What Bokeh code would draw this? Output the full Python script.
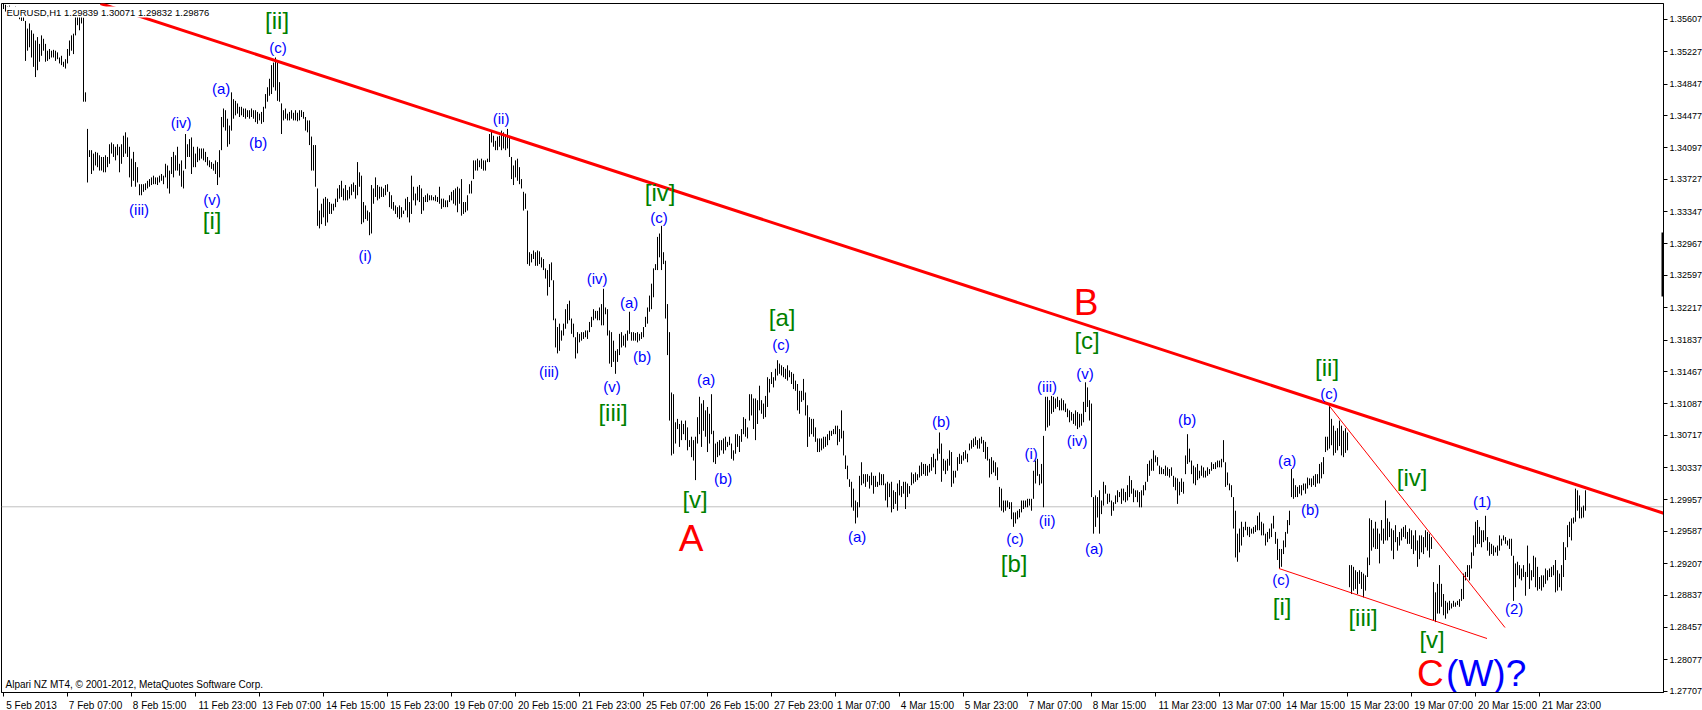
from bokeh.plotting import figure
from bokeh.models import Range1d, FixedTicker, PrintfTickFormatter, Span, Label, LinearAxis, BoxAnnotation, ColumnDataSource
from bokeh.core.properties import value
from bokeh.embed import file_html
from bokeh.resources import INLINE

# ---------------- data (EURUSD H1, bar highs / lows) ----------------
highs = [
    1.3579, 1.3578, 1.3576, 1.3577, 1.3575, 1.3574, 1.3576, 1.3575, 1.3571, 1.3571,
    1.3569, 1.3559, 1.3550, 1.3556, 1.3548, 1.3544, 1.3536, 1.3540, 1.3532, 1.3542,
    1.3538, 1.3532, 1.3524, 1.3526, 1.3524, 1.3525, 1.3524, 1.3522, 1.3516, 1.3518,
    1.3511, 1.3514, 1.3526, 1.3536, 1.3542, 1.3544, 1.3571, 1.3571, 1.3569, 1.3571,
    1.3563, 1.3475, 1.3432, 1.3407, 1.3407, 1.3403, 1.3405, 1.3404, 1.3401, 1.3399,
    1.3399, 1.3401, 1.3399, 1.3414, 1.3416, 1.3414, 1.3411, 1.3414, 1.3411, 1.3414,
    1.3424, 1.3428, 1.3422, 1.3411, 1.3397, 1.3405, 1.3393, 1.3387, 1.3367, 1.3367,
    1.3367, 1.3368, 1.3371, 1.3373, 1.3375, 1.3377, 1.3375, 1.3375, 1.3377, 1.3379,
    1.3377, 1.3391, 1.3389, 1.3383, 1.3399, 1.3405, 1.3401, 1.3411, 1.3391, 1.3395,
    1.3383, 1.3426, 1.3414, 1.3420, 1.3422, 1.3411, 1.3403, 1.3411, 1.3409, 1.3409,
    1.3409, 1.3405, 1.3399, 1.3395, 1.3393, 1.3391, 1.3395, 1.3393, 1.3407, 1.3446,
    1.3456, 1.3454, 1.3444, 1.3436, 1.3475, 1.3467, 1.3465, 1.3462, 1.3458, 1.3458,
    1.3456, 1.3456, 1.3454, 1.3454, 1.3456, 1.3454, 1.3454, 1.3452, 1.3450, 1.3452,
    1.3458, 1.3473, 1.3481, 1.3491, 1.3507, 1.3510, 1.3516, 1.3510, 1.3487, 1.3462,
    1.3454, 1.3456, 1.3450, 1.3452, 1.3454, 1.3451, 1.3454, 1.3451, 1.3454, 1.3454,
    1.3452, 1.3446, 1.3442, 1.3442, 1.3423, 1.3413, 1.3413, 1.3362, 1.3336, 1.3344,
    1.3350, 1.3352, 1.3350, 1.3346, 1.3344, 1.3344, 1.3350, 1.3362, 1.3366, 1.3371,
    1.3362, 1.3366, 1.3360, 1.3364, 1.3367, 1.3369, 1.3366, 1.3393, 1.3381, 1.3377,
    1.3346, 1.3342, 1.3336, 1.3334, 1.3366, 1.3362, 1.3375, 1.3366, 1.3364, 1.3364,
    1.3362, 1.3366, 1.3367, 1.3358, 1.3354, 1.3346, 1.3342, 1.3340, 1.3342, 1.3340,
    1.3336, 1.3350, 1.3352, 1.3346, 1.3377, 1.3364, 1.3356, 1.3364, 1.3366, 1.3362,
    1.3352, 1.3354, 1.3356, 1.3354, 1.3354, 1.3352, 1.3354, 1.3352, 1.3364, 1.3350,
    1.3350, 1.3348, 1.3348, 1.3354, 1.3358, 1.3360, 1.3362, 1.3364, 1.3362, 1.3373,
    1.3346, 1.3346, 1.3354, 1.3367, 1.3371, 1.3395, 1.3395, 1.3397, 1.3395, 1.3397,
    1.3395, 1.3395, 1.3397, 1.3426, 1.3430, 1.3424, 1.3418, 1.3423, 1.3424, 1.3430,
    1.3428, 1.3426, 1.3432, 1.3423, 1.3399, 1.3389, 1.3395, 1.3397, 1.3387, 1.3373,
    1.3358, 1.3356, 1.3336, 1.3287, 1.3285, 1.3289, 1.3287, 1.3289, 1.3288, 1.3281,
    1.3279, 1.3268, 1.3266, 1.3273, 1.3275, 1.3254, 1.3209, 1.3199, 1.3203, 1.3195,
    1.3203, 1.3220, 1.3226, 1.3230, 1.3209, 1.3203, 1.3187, 1.3193, 1.3191, 1.3193,
    1.3193, 1.3195, 1.3195, 1.3205, 1.3211, 1.3220, 1.3218, 1.3218, 1.3222, 1.3226,
    1.3244, 1.3222, 1.3220, 1.3195, 1.3193, 1.3183, 1.3171, 1.3173, 1.3191, 1.3193,
    1.3189, 1.3191, 1.3195, 1.3217, 1.3193, 1.3193, 1.3192, 1.3193, 1.3191, 1.3193,
    1.3199, 1.3211, 1.3222, 1.3236, 1.3250, 1.3268, 1.3273, 1.3305, 1.3309, 1.3318,
    1.3287, 1.3277, 1.3226, 1.3193, 1.3122, 1.3120, 1.3087, 1.3091, 1.3085, 1.3089,
    1.3085, 1.3089, 1.3081, 1.3066, 1.3070, 1.3066, 1.3070, 1.3093, 1.3117, 1.3109,
    1.3113, 1.3101, 1.3105, 1.3097, 1.3120, 1.3077, 1.3062, 1.3064, 1.3066, 1.3066,
    1.3068, 1.3070, 1.3064, 1.3070, 1.3062, 1.3054, 1.3073, 1.3073, 1.3071, 1.3079,
    1.3093, 1.3091, 1.3081, 1.3120, 1.3120, 1.3115, 1.3115, 1.3113, 1.3130, 1.3113,
    1.3109, 1.3118, 1.3140, 1.3138, 1.3146, 1.3140, 1.3150, 1.3160, 1.3156, 1.3154,
    1.3152, 1.3150, 1.3154, 1.3148, 1.3146, 1.3144, 1.3136, 1.3132, 1.3124, 1.3124,
    1.3138, 1.3122, 1.3107, 1.3093, 1.3091, 1.3091, 1.3081, 1.3068, 1.3068, 1.3068,
    1.3070, 1.3070, 1.3073, 1.3077, 1.3077, 1.3079, 1.3083, 1.3083, 1.3079, 1.3101,
    1.3077, 1.3048, 1.3036, 1.3020, 1.3017, 1.3009, 1.2995, 1.2993, 1.3024, 1.3040,
    1.3026, 1.3026, 1.3026, 1.3024, 1.3028, 1.3024, 1.3024, 1.3017, 1.3028, 1.3026,
    1.3026, 1.3015, 1.3017, 1.3015, 1.3017, 1.3007, 1.3005, 1.3015, 1.3019, 1.3012,
    1.3017, 1.3017, 1.3015, 1.3012, 1.3028, 1.3026, 1.3028, 1.3026, 1.3036, 1.3040,
    1.3038, 1.3038, 1.3036, 1.3038, 1.3046, 1.3050, 1.3044, 1.3056, 1.3075, 1.3062,
    1.3044, 1.3042, 1.3044, 1.3054, 1.3052, 1.3030, 1.3030, 1.3046, 1.3050, 1.3048,
    1.3052, 1.3054, 1.3050, 1.3062, 1.3066, 1.3068, 1.3070, 1.3066, 1.3068, 1.3070,
    1.3066, 1.3064, 1.3058, 1.3044, 1.3046, 1.3042, 1.3040, 1.3034, 1.3011, 1.3009,
    1.2995, 1.2995, 1.2995, 1.2993, 1.2993, 1.2981, 1.2981, 1.2983, 1.2985, 1.2995,
    1.2995, 1.2995, 1.2997, 1.2997, 1.2997, 1.3030, 1.3042, 1.3044, 1.3026, 1.3038,
    1.3071, 1.3117, 1.3117, 1.3113, 1.3118, 1.3117, 1.3115, 1.3117, 1.3113, 1.3115,
    1.3113, 1.3109, 1.3103, 1.3101, 1.3099, 1.3097, 1.3101, 1.3099, 1.3097, 1.3097,
    1.3111, 1.3134, 1.3128, 1.3113, 1.3109, 1.2999, 1.3001, 1.2999, 1.3007, 1.2995,
    1.3017, 1.3013, 1.3003, 1.3003, 1.2995, 1.2993, 1.3001, 1.3007, 1.3005, 1.3009,
    1.3009, 1.3005, 1.3013, 1.3024, 1.3019, 1.3009, 1.3007, 1.3007, 1.3005, 1.3007,
    1.3013, 1.3017, 1.3038, 1.3042, 1.3044, 1.3054, 1.3048, 1.3046, 1.3036, 1.3034,
    1.3032, 1.3036, 1.3034, 1.3032, 1.3034, 1.3024, 1.3022, 1.3021, 1.3017, 1.3021,
    1.3017, 1.3048, 1.3073, 1.3056, 1.3042, 1.3036, 1.3034, 1.3038, 1.3030, 1.3036,
    1.3034, 1.3030, 1.3034, 1.3032, 1.3040, 1.3038, 1.3040, 1.3042, 1.3042, 1.3044,
    1.3066, 1.3040, 1.3028, 1.3015, 1.3013, 1.2999, 1.2983, 1.2956, 1.2962, 1.2970,
    1.2964, 1.2970, 1.2964, 1.2964, 1.2962, 1.2964, 1.2966, 1.2977, 1.2981, 1.2970,
    1.2968, 1.2956, 1.2958, 1.2962, 1.2968, 1.2977, 1.2958, 1.2950, 1.2938, 1.2938,
    1.2948, 1.2958, 1.2972, 1.2983, 1.3032, 1.3021, 1.3013, 1.3011, 1.3013, 1.3013,
    1.3015, 1.3015, 1.3022, 1.3021, 1.3021, 1.3024, 1.3026, 1.3026, 1.3038, 1.3040,
    1.3046, 1.3070, 1.3070, 1.3107, 1.3091, 1.3083, 1.3077, 1.3080, 1.3089, 1.3083,
    1.3077, 1.3080, 1.3075, 1.2919, 1.2919, 1.2917, 1.2913, 1.2911, 1.2913, 1.2911,
    1.2909, 1.2907, 1.2928, 1.2974, 1.2972, 1.2962, 1.2970, 1.2962, 1.2956, 1.2972,
    1.2962, 1.2995, 1.2974, 1.2970, 1.2962, 1.2960, 1.2966, 1.2952, 1.2958, 1.2962,
    1.2964, 1.2966, 1.2958, 1.2962, 1.2960, 1.2954, 1.2960, 1.2948, 1.2954, 1.2954,
    1.2952, 1.2960, 1.2958, 1.2956, 1.2952, 1.2899, 1.2887, 1.2897, 1.2919, 1.2897,
    1.2885, 1.2877, 1.2875, 1.2877, 1.2874, 1.2877, 1.2875, 1.2877, 1.2879, 1.2891,
    1.2909, 1.2911, 1.2919, 1.2919, 1.2934, 1.2954, 1.2970, 1.2972, 1.2964, 1.2960,
    1.2960, 1.2977, 1.2952, 1.2946, 1.2944, 1.2942, 1.2940, 1.2942, 1.2954, 1.2950,
    1.2954, 1.2952, 1.2948, 1.2950, 1.2950, 1.2930, 1.2921, 1.2923, 1.2919, 1.2915,
    1.2919, 1.2911, 1.2942, 1.2921, 1.2913, 1.2930, 1.2928, 1.2917, 1.2905, 1.2907,
    1.2907, 1.2915, 1.2913, 1.2915, 1.2917, 1.2919, 1.2925, 1.2913, 1.2909, 1.2919,
    1.2946, 1.2940, 1.2966, 1.2970, 1.2974, 1.2975, 1.3009, 1.3007, 1.3001, 1.2987,
    1.2989, 1.3007,
]
lows = [
    1.3573, 1.3570, 1.3568, 1.3569, 1.3566, 1.3567, 1.3568, 1.3566, 1.3561, 1.3559,
    1.3559, 1.3512, 1.3524, 1.3528, 1.3516, 1.3505, 1.3493, 1.3501, 1.3511, 1.3518,
    1.3524, 1.3511, 1.3512, 1.3514, 1.3516, 1.3516, 1.3512, 1.3514, 1.3509, 1.3507,
    1.3505, 1.3503, 1.3509, 1.3518, 1.3524, 1.3520, 1.3542, 1.3554, 1.3548, 1.3556,
    1.3464, 1.3464, 1.3369, 1.3399, 1.3379, 1.3383, 1.3389, 1.3387, 1.3383, 1.3383,
    1.3381, 1.3381, 1.3387, 1.3391, 1.3403, 1.3399, 1.3395, 1.3401, 1.3381, 1.3391,
    1.3399, 1.3403, 1.3399, 1.3375, 1.3364, 1.3371, 1.3364, 1.3369, 1.3354, 1.3354,
    1.3358, 1.3360, 1.3362, 1.3364, 1.3366, 1.3367, 1.3367, 1.3366, 1.3369, 1.3371,
    1.3367, 1.3375, 1.3362, 1.3356, 1.3379, 1.3375, 1.3383, 1.3383, 1.3377, 1.3364,
    1.3362, 1.3385, 1.3399, 1.3399, 1.3379, 1.3387, 1.3387, 1.3393, 1.3395, 1.3397,
    1.3395, 1.3393, 1.3389, 1.3387, 1.3385, 1.3383, 1.3379, 1.3366, 1.3375, 1.3407,
    1.3434, 1.3430, 1.3411, 1.3414, 1.3430, 1.3444, 1.3448, 1.3450, 1.3446, 1.3448,
    1.3446, 1.3444, 1.3446, 1.3444, 1.3446, 1.3444, 1.3440, 1.3438, 1.3442, 1.3438,
    1.3440, 1.3456, 1.3464, 1.3471, 1.3473, 1.3481, 1.3477, 1.3465, 1.3464, 1.3426,
    1.3442, 1.3444, 1.3442, 1.3442, 1.3444, 1.3442, 1.3442, 1.3441, 1.3442, 1.3446,
    1.3444, 1.3430, 1.3428, 1.3413, 1.3383, 1.3383, 1.3364, 1.3318, 1.3315, 1.3320,
    1.3328, 1.3318, 1.3322, 1.3332, 1.3332, 1.3336, 1.3340, 1.3346, 1.3350, 1.3352,
    1.3348, 1.3348, 1.3348, 1.3350, 1.3354, 1.3358, 1.3350, 1.3354, 1.3364, 1.3320,
    1.3322, 1.3326, 1.3324, 1.3307, 1.3309, 1.3344, 1.3352, 1.3348, 1.3350, 1.3352,
    1.3352, 1.3354, 1.3358, 1.3340, 1.3338, 1.3336, 1.3332, 1.3328, 1.3326, 1.3328,
    1.3332, 1.3336, 1.3328, 1.3322, 1.3332, 1.3348, 1.3342, 1.3348, 1.3346, 1.3332,
    1.3336, 1.3346, 1.3346, 1.3348, 1.3348, 1.3348, 1.3347, 1.3346, 1.3344, 1.3338,
    1.3340, 1.3340, 1.3340, 1.3346, 1.3348, 1.3344, 1.3342, 1.3334, 1.3344, 1.3330,
    1.3332, 1.3334, 1.3336, 1.3356, 1.3356, 1.3373, 1.3383, 1.3383, 1.3387, 1.3385,
    1.3383, 1.3383, 1.3393, 1.3393, 1.3416, 1.3411, 1.3407, 1.3407, 1.3411, 1.3407,
    1.3409, 1.3407, 1.3409, 1.3399, 1.3373, 1.3366, 1.3375, 1.3371, 1.3367, 1.3362,
    1.3336, 1.3338, 1.3273, 1.3271, 1.3275, 1.3279, 1.3271, 1.3271, 1.3273, 1.3269,
    1.3266, 1.3256, 1.3236, 1.3246, 1.3254, 1.3207, 1.3175, 1.3168, 1.3171, 1.3183,
    1.3189, 1.3197, 1.3203, 1.3207, 1.3191, 1.3187, 1.3162, 1.3168, 1.3181, 1.3183,
    1.3185, 1.3187, 1.3185, 1.3193, 1.3199, 1.3207, 1.3209, 1.3207, 1.3207, 1.3201,
    1.3201, 1.3214, 1.3189, 1.3156, 1.3152, 1.3158, 1.3144, 1.3158, 1.3166, 1.3175,
    1.3177, 1.3175, 1.3183, 1.3191, 1.3183, 1.3183, 1.3183, 1.3181, 1.3183, 1.3185,
    1.3187, 1.3199, 1.3203, 1.3217, 1.3220, 1.3234, 1.3266, 1.3266, 1.3281, 1.3266,
    1.3273, 1.3209, 1.3166, 1.3089, 1.3048, 1.3050, 1.3062, 1.3079, 1.3058, 1.3066,
    1.3073, 1.3066, 1.3054, 1.3058, 1.3046, 1.3042, 1.3019, 1.3062, 1.3073, 1.3058,
    1.3077, 1.3070, 1.3052, 1.3062, 1.3073, 1.3040, 1.3038, 1.3046, 1.3048, 1.3054,
    1.3050, 1.3054, 1.3058, 1.3060, 1.3044, 1.3042, 1.3050, 1.3058, 1.3052, 1.3064,
    1.3073, 1.3070, 1.3068, 1.3089, 1.3095, 1.3079, 1.3066, 1.3085, 1.3101, 1.3097,
    1.3091, 1.3093, 1.3105, 1.3122, 1.3132, 1.3128, 1.3136, 1.3142, 1.3144, 1.3142,
    1.3140, 1.3138, 1.3136, 1.3140, 1.3132, 1.3126, 1.3124, 1.3101, 1.3097, 1.3111,
    1.3113, 1.3095, 1.3058, 1.3070, 1.3073, 1.3070, 1.3064, 1.3052, 1.3052, 1.3054,
    1.3056, 1.3058, 1.3060, 1.3066, 1.3071, 1.3073, 1.3073, 1.3060, 1.3064, 1.3068,
    1.3048, 1.3032, 1.3020, 1.3011, 1.2987, 1.2983, 1.2968, 1.2975, 1.2987, 1.3013,
    1.3015, 1.3011, 1.3017, 1.3009, 1.3013, 1.3003, 1.3011, 1.3011, 1.3013, 1.3013,
    1.3013, 1.2995, 1.2987, 1.2999, 1.2981, 1.2985, 1.2991, 1.2983, 1.3001, 1.2999,
    1.3003, 1.2985, 1.2999, 1.3003, 1.3013, 1.3015, 1.3017, 1.3019, 1.3022, 1.3024,
    1.3026, 1.3024, 1.3024, 1.3028, 1.3030, 1.3034, 1.3026, 1.3042, 1.3050, 1.3017,
    1.3030, 1.3026, 1.3030, 1.3036, 1.3011, 1.3015, 1.3022, 1.3030, 1.3038, 1.3038,
    1.3042, 1.3044, 1.3040, 1.3054, 1.3056, 1.3058, 1.3060, 1.3056, 1.3056, 1.3062,
    1.3052, 1.3044, 1.3042, 1.3022, 1.3026, 1.3028, 1.3024, 1.3019, 1.2987, 1.2983,
    1.2981, 1.2983, 1.2987, 1.2985, 1.2973, 1.2964, 1.2968, 1.2973, 1.2975, 1.2981,
    1.2985, 1.2987, 1.2987, 1.2989, 1.2983, 1.2997, 1.3015, 1.3024, 1.3013, 1.3015,
    1.2987, 1.3077, 1.3081, 1.3083, 1.3097, 1.3099, 1.3103, 1.3105, 1.3101, 1.3101,
    1.3101, 1.3099, 1.3093, 1.3087, 1.3089, 1.3085, 1.3083, 1.3079, 1.3081, 1.3083,
    1.3087, 1.3099, 1.3105, 1.3089, 1.2999, 1.2956, 1.2964, 1.2975, 1.2956, 1.2979,
    1.2989, 1.3003, 1.2991, 1.2993, 1.2977, 1.2983, 1.2991, 1.2993, 1.2999, 1.2991,
    1.2995, 1.2993, 1.2995, 1.2999, 1.3003, 1.2993, 1.2999, 1.2993, 1.2987, 1.2987,
    1.3001, 1.3007, 1.3017, 1.3024, 1.3030, 1.3030, 1.3040, 1.3036, 1.3026, 1.3026,
    1.3026, 1.3024, 1.3024, 1.3022, 1.3024, 1.3011, 1.3007, 1.2991, 1.3001, 1.3005,
    1.3003, 1.3026, 1.3038, 1.3040, 1.3026, 1.3015, 1.3013, 1.3019, 1.3021, 1.3024,
    1.3022, 1.3022, 1.3024, 1.3026, 1.3030, 1.3032, 1.3032, 1.3034, 1.3034, 1.3034,
    1.3040, 1.3011, 1.3013, 1.3007, 1.2999, 1.2962, 1.2928, 1.2923, 1.2934, 1.2942,
    1.2952, 1.2960, 1.2954, 1.2952, 1.2956, 1.2956, 1.2958, 1.2960, 1.2960, 1.2954,
    1.2954, 1.2942, 1.2946, 1.2950, 1.2952, 1.2962, 1.2944, 1.2925, 1.2915, 1.2917,
    1.2932, 1.2940, 1.2956, 1.2966, 1.2999, 1.2997, 1.2999, 1.2999, 1.3003, 1.3001,
    1.3007, 1.3003, 1.3009, 1.3013, 1.3011, 1.3013, 1.3011, 1.3015, 1.3015, 1.3021,
    1.3026, 1.3052, 1.3054, 1.3056, 1.3060, 1.3048, 1.3051, 1.3054, 1.3059, 1.3048,
    1.3046, 1.3051, 1.3054, 1.2893, 1.2885, 1.2889, 1.2891, 1.2885, 1.2897, 1.2891,
    1.2881, 1.2889, 1.2905, 1.2919, 1.2936, 1.2940, 1.2938, 1.2938, 1.2921, 1.2948,
    1.2944, 1.2948, 1.2948, 1.2952, 1.2936, 1.2926, 1.2946, 1.2936, 1.2942, 1.2948,
    1.2952, 1.2950, 1.2944, 1.2944, 1.2938, 1.2932, 1.2936, 1.2917, 1.2926, 1.2934,
    1.2932, 1.2940, 1.2936, 1.2928, 1.2938, 1.2854, 1.2852, 1.2862, 1.2862, 1.2870,
    1.2860, 1.2856, 1.2862, 1.2866, 1.2868, 1.2870, 1.2870, 1.2872, 1.2870, 1.2877,
    1.2879, 1.2901, 1.2905, 1.2901, 1.2915, 1.2930, 1.2940, 1.2944, 1.2944, 1.2940,
    1.2946, 1.2948, 1.2936, 1.2930, 1.2932, 1.2930, 1.2934, 1.2930, 1.2936, 1.2942,
    1.2948, 1.2944, 1.2942, 1.2938, 1.2930, 1.2877, 1.2893, 1.2907, 1.2903, 1.2901,
    1.2905, 1.2883, 1.2905, 1.2891, 1.2901, 1.2905, 1.2893, 1.2889, 1.2891, 1.2889,
    1.2893, 1.2897, 1.2901, 1.2905, 1.2905, 1.2907, 1.2887, 1.2889, 1.2893, 1.2889,
    1.2905, 1.2925, 1.2940, 1.2952, 1.2948, 1.2968, 1.2970, 1.2983, 1.2974, 1.2974,
    1.2975, 1.2983,
]

time_labels = ["5 Feb 2013", "7 Feb 07:00", "8 Feb 15:00", "11 Feb 23:00", "13 Feb 07:00",
               "14 Feb 15:00", "15 Feb 23:00", "19 Feb 07:00", "20 Feb 15:00", "21 Feb 23:00",
               "25 Feb 07:00", "26 Feb 15:00", "27 Feb 23:00", "1 Mar 07:00", "4 Mar 15:00",
               "5 Mar 23:00", "7 Mar 07:00", "8 Mar 15:00", "11 Mar 23:00", "13 Mar 07:00",
               "14 Mar 15:00", "15 Mar 23:00", "19 Mar 07:00", "20 Mar 15:00", "21 Mar 23:00"]
time_label_bars = [0, 32, 64, 96, 128, 160, 192, 224, 256, 288, 320, 352, 384, 416, 448,
                   480, 512, 544, 576, 608, 640, 672, 704, 736, 768]

price_ticks = [1.35607, 1.35227, 1.34847, 1.34477, 1.34097, 1.33727, 1.33347, 1.32967,
               1.32597, 1.32217, 1.31837, 1.31467, 1.31087, 1.30717, 1.30337, 1.29957,
               1.29587, 1.29207, 1.28837, 1.28457, 1.28077, 1.27707]

last_price = 1.29876
header_text = "EURUSD,H1  1.29839 1.30071 1.29832 1.29876"
footer_text = "Alpari NZ MT4, \u00a9 2001-2012, MetaQuotes Software Corp."

trend_main_x = [48.5, 830.5]
trend_main_y = [1.35795, 1.29797]
trend_low_x = [637.75, 741.75]
trend_low_y = [1.29150, 1.28327]
trend_brk_x = [662.75, 750.75]
trend_brk_y = [1.31067, 1.28456]

blue_text = ["(c)", "(a)", "(b)", "(iv)", "(iii)", "(v)", "(i)", "(ii)", "(c)", "(iv)", "(a)",
             "(b)", "(iii)", "(v)", "(a)", "(b)", "(c)", "(a)", "(b)", "(c)", "(i)", "(ii)",
             "(iii)", "(v)", "(iv)", "(a)", "(b)", "(a)", "(b)", "(c)", "(c)", "(1)", "(2)"]
blue_bar = [137.3, 108.8, 127.3, 88.8, 67.8, 104.3, 180.8, 248.8, 327.8, 296.8, 312.8,
            319.3, 272.8, 304.3, 351.3, 359.8, 388.8, 426.8, 468.8, 505.8, 513.8, 521.8,
            521.8, 540.8, 536.8, 545.3, 591.8, 641.8, 653.3, 638.8, 662.8, 739.3, 755.3]
blue_price = [1.35278, 1.34796, 1.34160, 1.34396, 1.33372, 1.33490, 1.32831, 1.34443, 1.33278,
              1.32561, 1.32279, 1.31644, 1.31467, 1.31291, 1.31373, 1.30209, 1.31785, 1.29527,
              1.30879, 1.29503, 1.30503, 1.29715, 1.31291, 1.31444, 1.30656, 1.29385, 1.30903,
              1.30420, 1.29844, 1.29021, 1.31208, 1.29938, 1.28680]

green_text = ["[ii]", "[i]", "[iv]", "[iii]", "[a]", "[v]", "[b]", "[c]", "[ii]", "[i]",
              "[iv]", "[iii]", "[v]"]
green_bar = [136.8, 104.3, 328.3, 304.8, 389.3, 345.8, 505.3, 541.8, 661.8, 639.3,
             704.3, 679.8, 714.3]
green_price = [1.35595, 1.33243, 1.33572, 1.30985, 1.32102, 1.29962, 1.29209, 1.31832,
               1.31514, 1.28703, 1.30220, 1.28574, 1.28315]

red_text = ["A", "B", "C"]
red_bar = [343.8, 541.3, 706.8]
red_price = [1.29503, 1.32280, 1.27915]
red_align = ["center", "center", "left"]

wave_big_text = ["(W)?"]
wave_big_bar = [721.3]
wave_big_price = [1.27915]

# ---------------- figure ----------------
FW, FH = 1662, 689
X0 = -1.0
X1 = X0 + FW / 2.0
Y0, Y1 = 1.27692, 1.35795
FONT = "Liberation Sans"

p = figure(frame_width=FW, frame_height=FH, output_backend="svg", toolbar_location=None,
           x_range=Range1d(X0, X1), y_range=Range1d(Y0, Y1),
           x_axis_location=None, y_axis_location=None,
           min_border_left=1, min_border_top=3, min_border_right=39, min_border_bottom=18)
p.grid.visible = False
p.outline_line_color = "black"
p.outline_line_width = 1
p.background_fill_color = "white"
p.border_fill_color = "white"

# bottom time axis: labels sit to the right of their tick (MT4 style)
offs = [14 if len(t.split()[0]) == 1 else 16 for t in time_labels]
centers = [b + o for b, o in zip(time_label_bars, offs)]
xaxis = LinearAxis(ticker=FixedTicker(ticks=centers, minor_ticks=time_label_bars),
                   major_label_overrides={c: t for c, t in zip(centers, time_labels)},
                   major_tick_out=0, major_tick_in=0, minor_tick_out=4, minor_tick_in=0,
                   minor_tick_line_color="black", axis_line_color="black",
                   major_label_standoff=3, major_label_text_font=FONT,
                   major_label_text_font_size="10px", major_label_text_color="black")
p.add_layout(xaxis, "below")

yaxis = LinearAxis(ticker=FixedTicker(ticks=price_ticks), formatter=PrintfTickFormatter(format="%.5f"),
                   major_tick_out=4, major_tick_in=0, minor_tick_out=0, minor_tick_in=0,
                   major_tick_line_color="black", axis_line_color="black",
                   major_label_standoff=2, major_label_text_font=FONT,
                   major_label_text_font_size="9px", major_label_text_color="black")
p.add_layout(yaxis, "right")

# current price line (behind bars)
p.add_layout(Span(location=last_price, dimension="width", line_color="#C0C0C0",
                  line_width=1, level="underlay"))

# bars
idx = list(range(min(len(highs), len(lows))))
p.segment(x0=idx, y0=lows[:len(idx)], x1=idx, y1=highs[:len(idx)], line_color="black", line_width=1)

# trend lines
p.line(trend_main_x, trend_main_y, line_color="#FF0000", line_width=3)
p.line(trend_low_x, trend_low_y, line_color="#FF0000", line_width=1)
p.line(trend_brk_x, trend_brk_y, line_color="#FF0000", line_width=1)

# wave labels
p.text(x=blue_bar, y=blue_price, text=blue_text, text_color="#0000FF",
       text_font=value(FONT), text_font_size=value("15px"),
       text_align="center", text_baseline="middle")
p.text(x=green_bar, y=green_price, text=green_text, text_color="#008000",
       text_font=value(FONT), text_font_size=value("24px"),
       text_align="center", text_baseline="middle")
src_red = ColumnDataSource(dict(x=red_bar, y=red_price, t=red_text, a=red_align))
p.text(x="x", y="y", text="t", text_align="a", source=src_red, text_color="#FF0000",
       text_font=value(FONT), text_font_size=value("37px"), text_baseline="middle")
p.text(x=wave_big_bar, y=wave_big_price, text=wave_big_text, text_color="#0000FF",
       text_font=value(FONT), text_font_size=value("37px"),
       text_align="left", text_baseline="middle")

# header / footer texts
p.add_layout(Label(x=X0, y=Y1, x_offset=5, y_offset=-3, text=header_text,
                   text_baseline="top", text_font=FONT, text_font_size="9.5px",
                   text_color="black", background_fill_color="white"))
p.add_layout(Label(x=X0, y=Y0, x_offset=4, y_offset=3, text=footer_text,
                   text_baseline="bottom", text_font=FONT, text_font_size="10px",
                   text_color="black"))

# price marker on the right scale
p.add_layout(Label(x=X1, y=last_price, x_offset=2, text="%.5f" % last_price,
                   text_baseline="middle", text_font=FONT, text_font_size="9px",
                   text_color="white", background_fill_color="black"))
p.add_layout(BoxAnnotation(left=X1 - 1.0, right=X1 + 0.6, bottom=1.32349, top=1.33102,
                           fill_color="black", fill_alpha=1.0, line_alpha=0.0))

open("out.html", "w").write(file_html(p, INLINE))
